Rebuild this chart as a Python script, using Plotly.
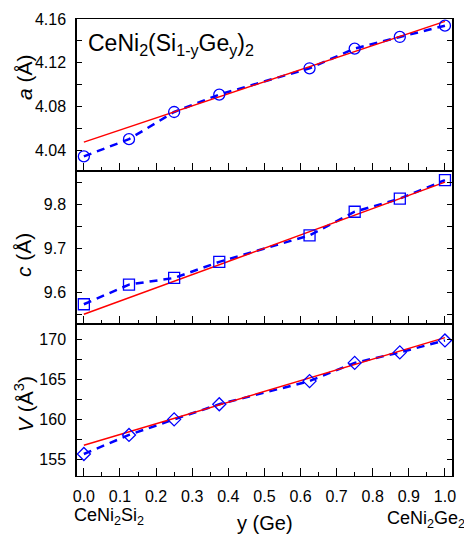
import plotly.graph_objects as go
from plotly.subplots import make_subplots

# composition y (Ge)
y_ge = [0.0, 0.125, 0.25, 0.375, 0.625, 0.75, 0.875, 1.0]
a_vals = [4.0345, 4.0503, 4.0751, 4.0910, 4.1150, 4.1330, 4.1436, 4.1539]
c_vals = [9.5735, 9.6180, 9.6330, 9.6695, 9.7295, 9.7830, 9.8127, 9.8545]
V_vals = [155.66, 158.05, 160.00, 161.90, 164.80, 167.08, 168.40, 169.90]

# linear (Vegard) lines, endpoints at y = 0 and y = 1
fit_x = [0.0, 1.0]
a_fit = [4.0476, 4.1578]
c_fit = [9.5507, 9.8500]
V_fit = [156.75, 170.25]

x_ticks = [0.0, 0.1, 0.2, 0.3, 0.4, 0.5, 0.6, 0.7, 0.8, 0.9, 1.0]

FONT = "Liberation Sans, Arial, sans-serif"
BLUE = "#0000FF"
RED = "#FF0000"

fig = make_subplots(rows=3, cols=1, shared_xaxes=True, vertical_spacing=0)

panels = [
    (a_vals, a_fit, "circle-open", 11),
    (c_vals, c_fit, "square-open", 11),
    (V_vals, V_fit, "diamond-open", 10),
]
for i, (vals, fit, sym, size) in enumerate(panels, start=1):
    fig.add_trace(go.Scatter(x=y_ge, y=vals, mode="lines",
                             line=dict(color=BLUE, width=2.5, dash="8px,6px"),
                             showlegend=False, hoverinfo="skip"), row=i, col=1)
    fig.add_trace(go.Scatter(x=fit_x, y=fit, mode="lines",
                             line=dict(color=RED, width=1.5),
                             showlegend=False), row=i, col=1)
    fig.add_trace(go.Scatter(x=y_ge, y=vals, mode="markers",
                             marker=dict(symbol=sym, size=size, color=BLUE,
                                         line=dict(color=BLUE, width=1.3)),
                             showlegend=False), row=i, col=1)

common_x = dict(range=[-0.019, 1.0195], showline=True, linecolor="black", linewidth=1.3,
                mirror=True, ticks="inside", ticklen=8, tickwidth=1.3, tickcolor="black",
                tickvals=x_ticks, showgrid=False, zeroline=False,
                minor=dict(dtick=0.05, tick0=0, ticks="inside", ticklen=4,
                           tickwidth=1.3, tickcolor="black", showgrid=False),
                tickfont=dict(family=FONT, size=16, color="black"))
for r in (1, 2, 3):
    fig.update_xaxes(row=r, col=1, **common_x)
fig.update_xaxes(row=1, col=1, showticklabels=False)
fig.update_xaxes(row=2, col=1, showticklabels=False)
fig.update_xaxes(row=3, col=1, showticklabels=True, tickformat=".1f", ticklabelstandoff=6)

common_y = dict(showline=True, linecolor="black", linewidth=1.5, mirror="ticks",
                ticks="inside", ticklen=5, tickwidth=1.3, tickcolor="black",
                showgrid=False, zeroline=False, ticklabelstandoff=6,
                tickfont=dict(family=FONT, size=16, color="black"))
fig.update_yaxes(row=1, col=1, range=[4.0209, 4.16], dtick=0.04, tick0=4.0,
                 tickformat=".2f",
                 minor=dict(dtick=0.02, tick0=4.0, ticks="inside", ticklen=5,
                            tickwidth=1.3, tickcolor="black", showgrid=False),
                 **common_y)
fig.update_yaxes(row=2, col=1, range=[9.5295, 9.8745], dtick=0.1, tick0=9.0,
                 tickformat=".1f",
                 minor=dict(dtick=0.05, tick0=9.0, ticks="inside", ticklen=5,
                            tickwidth=1.3, tickcolor="black", showgrid=False),
                 **common_y)
fig.update_yaxes(row=3, col=1, range=[152.9, 172.0], dtick=5, tick0=150,
                 minor=dict(dtick=2.5, tick0=150, ticks="inside", ticklen=5,
                            tickwidth=1.3, tickcolor="black", showgrid=False),
                 **common_y)

ann_font = dict(family=FONT, color="black")
annotations = [
    dict(text="CeNi<sub>2</sub>(Si<sub>1-y</sub>Ge<sub>y</sub>)<sub>2</sub>",
         x=0.024, y=0.945, xanchor="left", yanchor="middle",
         font=dict(size=23, **ann_font)),
    dict(text="<i>a</i> (Å)", x=0, xshift=-53, y=0.873, textangle=-90,
         xanchor="center", yanchor="middle", font=dict(size=21, **ann_font)),
    dict(text="<i>c</i> (Å)", x=0, xshift=-53, y=0.4836, textangle=-90,
         xanchor="center", yanchor="middle", font=dict(size=21, **ann_font)),
    dict(text="<i>V</i> (Å<sup>3</sup>)", x=0, xshift=-53, y=0.1575, textangle=-90,
         xanchor="center", yanchor="middle", font=dict(size=21, **ann_font)),
    dict(text="y (Ge)", x=0.5, y=-0.103, xanchor="center", yanchor="middle",
         font=dict(size=20, **ann_font)),
    dict(text="CeNi<sub>2</sub>Si<sub>2</sub>", x=-0.013, y=-0.088,
         xanchor="left", yanchor="middle", font=dict(size=18, **ann_font)),
    dict(text="CeNi<sub>2</sub>Ge<sub>2</sub>", x=0.8206, y=-0.095,
         xanchor="left", yanchor="middle", font=dict(size=18, **ann_font)),
]
for a in annotations:
    a.update(xref="paper", yref="paper", showarrow=False)

fig.update_layout(width=464, height=534,
                  margin=dict(l=77, r=8, t=19, b=58),
                  paper_bgcolor="white", plot_bgcolor="white",
                  font=dict(family=FONT, color="black"),
                  annotations=annotations, showlegend=False)

fig.write_html("out.html", config={"displayModeBar": False},
               post_script="document.body.style.margin='0';document.body.style.overflow='hidden';")
